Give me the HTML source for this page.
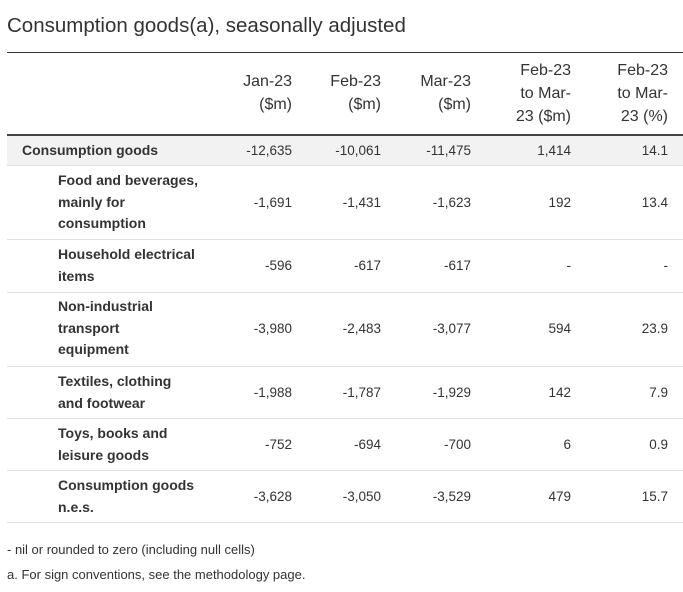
<!DOCTYPE html>
<html><head><style>
body{margin:0;width:683px;height:592px;background:#fff;font-family:"Liberation Sans",sans-serif;color:#333;position:relative;overflow:hidden}
.a{position:absolute}
.t{left:7px;top:14px;font-size:20.5px;color:#333;white-space:nowrap}
.hl{left:7px;width:676px}
.n{font-size:13.5px;text-align:right;width:100px;line-height:21.5px}
.h{font-size:16px;text-align:right;width:100px;line-height:23px}
.l{font-size:14px;font-weight:bold;line-height:21.5px;color:#333}
.f{font-size:13px;left:7px}
</style></head><body>
<div class="a t">Consumption goods(a), seasonally adjusted</div>
<div class="a hl" style="top:52px;height:1px;background:#333"></div>
<div class="a h" style="left:192px;top:70px">Jan-23<br>($m)</div>
<div class="a h" style="left:281px;top:70px">Feb-23<br>($m)</div>
<div class="a h" style="left:371px;top:70px">Mar-23<br>($m)</div>
<div class="a h" style="left:471px;top:59px">Feb-23<br>to Mar-<br>23 ($m)</div>
<div class="a h" style="left:568px;top:59px">Feb-23<br>to Mar-<br>23 (%)</div>
<div class="a hl" style="top:134px;height:2px;background:#444"></div>
<div class="a hl" style="top:136px;height:29px;background:#f2f2f2"></div>
<div class="a hl" style="top:165px;height:1px;background:#e0e0e0"></div>
<div class="a hl" style="top:239px;height:1px;background:#e0e0e0"></div>
<div class="a hl" style="top:292px;height:1px;background:#e0e0e0"></div>
<div class="a hl" style="top:366px;height:1px;background:#e0e0e0"></div>
<div class="a hl" style="top:418px;height:1px;background:#e0e0e0"></div>
<div class="a hl" style="top:470px;height:1px;background:#e0e0e0"></div>
<div class="a hl" style="top:522px;height:1px;background:#e0e0e0"></div>

<div class="a l" style="left:22px;top:140px">Consumption goods</div>
<div class="a n" style="left:192px;top:140px">-12,635</div><div class="a n" style="left:281px;top:140px">-10,061</div><div class="a n" style="left:371px;top:140px">-11,475</div><div class="a n" style="left:471px;top:140px">1,414</div><div class="a n" style="left:568px;top:140px">14.1</div>

<div class="a l" style="left:58px;top:170px">Food and beverages,<br>mainly for<br>consumption</div>
<div class="a n" style="left:192px;top:192px">-1,691</div><div class="a n" style="left:281px;top:192px">-1,431</div><div class="a n" style="left:371px;top:192px">-1,623</div><div class="a n" style="left:471px;top:192px">192</div><div class="a n" style="left:568px;top:192px">13.4</div>

<div class="a l" style="left:58px;top:244px">Household electrical<br>items</div>
<div class="a n" style="left:192px;top:255px">-596</div><div class="a n" style="left:281px;top:255px">-617</div><div class="a n" style="left:371px;top:255px">-617</div><div class="a n" style="left:471px;top:255px">-</div><div class="a n" style="left:568px;top:255px">-</div>

<div class="a l" style="left:58px;top:296px">Non-industrial<br>transport<br>equipment</div>
<div class="a n" style="left:192px;top:318px">-3,980</div><div class="a n" style="left:281px;top:318px">-2,483</div><div class="a n" style="left:371px;top:318px">-3,077</div><div class="a n" style="left:471px;top:318px">594</div><div class="a n" style="left:568px;top:318px">23.9</div>

<div class="a l" style="left:58px;top:371px">Textiles, clothing<br>and footwear</div>
<div class="a n" style="left:192px;top:382px">-1,988</div><div class="a n" style="left:281px;top:382px">-1,787</div><div class="a n" style="left:371px;top:382px">-1,929</div><div class="a n" style="left:471px;top:382px">142</div><div class="a n" style="left:568px;top:382px">7.9</div>

<div class="a l" style="left:58px;top:423px">Toys, books and<br>leisure goods</div>
<div class="a n" style="left:192px;top:434px">-752</div><div class="a n" style="left:281px;top:434px">-694</div><div class="a n" style="left:371px;top:434px">-700</div><div class="a n" style="left:471px;top:434px">6</div><div class="a n" style="left:568px;top:434px">0.9</div>

<div class="a l" style="left:58px;top:475px">Consumption goods<br>n.e.s.</div>
<div class="a n" style="left:192px;top:486px">-3,628</div><div class="a n" style="left:281px;top:486px">-3,050</div><div class="a n" style="left:371px;top:486px">-3,529</div><div class="a n" style="left:471px;top:486px">479</div><div class="a n" style="left:568px;top:486px">15.7</div>

<div class="a f" style="top:542px">- nil or rounded to zero (including null cells)</div>
<div class="a f" style="top:567px">a. For sign conventions, see the methodology page.</div>
</body></html>
